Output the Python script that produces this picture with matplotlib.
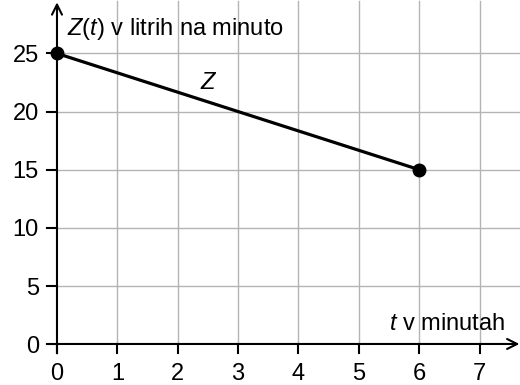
import matplotlib.pyplot as plt

# line Z(t): flow in litres per minute
t_pts = [0, 6]
z_pts = [25, 15]

x_ticks = [0, 1, 2, 3, 4, 5, 6, 7]
y_ticks = [0, 5, 10, 15, 20, 25]

plt.rcParams['font.family'] = ['Liberation Sans', 'DejaVu Sans']
plt.rcParams['mathtext.fontset'] = 'custom'
plt.rcParams['mathtext.it'] = 'Liberation Sans:italic'
plt.rcParams['mathtext.rm'] = 'Liberation Sans'

fig = plt.figure(figsize=(5.2, 3.85), dpi=100)
ax = fig.add_axes([0, 0, 1, 1])
ax.set_xlim(-0.944, 7.67)
ax.set_ylim(-3.53, 29.6)
ax.axis('off')

grid_col = '#b4b4b4'
fs = 17
# grid
for x in x_ticks[1:]:
    ax.plot([x, x], [0, 29.5], color=grid_col, lw=1.0, zorder=1)
for y in y_ticks[1:]:
    ax.plot([0, 7.7], [y, y], color=grid_col, lw=1.0, zorder=1)

# axes with arrows
ax.annotate('', xy=(7.66, 0), xytext=(0, 0),
            arrowprops=dict(arrowstyle='->', lw=1.5, color='black',
                            mutation_scale=18, shrinkA=0, shrinkB=0), zorder=3)
ax.annotate('', xy=(0, 29.4), xytext=(0, -0.8),
            arrowprops=dict(arrowstyle='->', lw=1.5, color='black',
                            mutation_scale=18, shrinkA=0, shrinkB=0), zorder=3)

# ticks and labels
for x in x_ticks:
    ax.plot([x, x], [0, -0.8], color='black', lw=1.5, zorder=3)
    ax.text(x, -3.1, str(x), ha='center', va='baseline', fontsize=fs)
for y in y_ticks:
    ax.plot([-0.165, 0], [y, y], color='black', lw=1.5, zorder=3)
    ax.text(-0.3, y - 0.75, str(y), ha='right', va='baseline', fontsize=fs)

ax.text(0.16, 26.6, r'$Z$($t$) v litrih na minuto', fontsize=fs,
        ha='left', va='baseline')
ax.text(7.42, 1.17, r'$t$ v minutah', fontsize=fs, ha='right', va='baseline')

# the line itself
ax.plot(t_pts, z_pts, color='black', lw=2.3, zorder=4)
ax.plot(t_pts, z_pts, 'o', color='black', markersize=9, zorder=5)
ax.text(2.49, 21.9, 'Z', fontsize=fs, style='italic', ha='center', va='baseline')

fig.savefig('out.png', dpi=100)
